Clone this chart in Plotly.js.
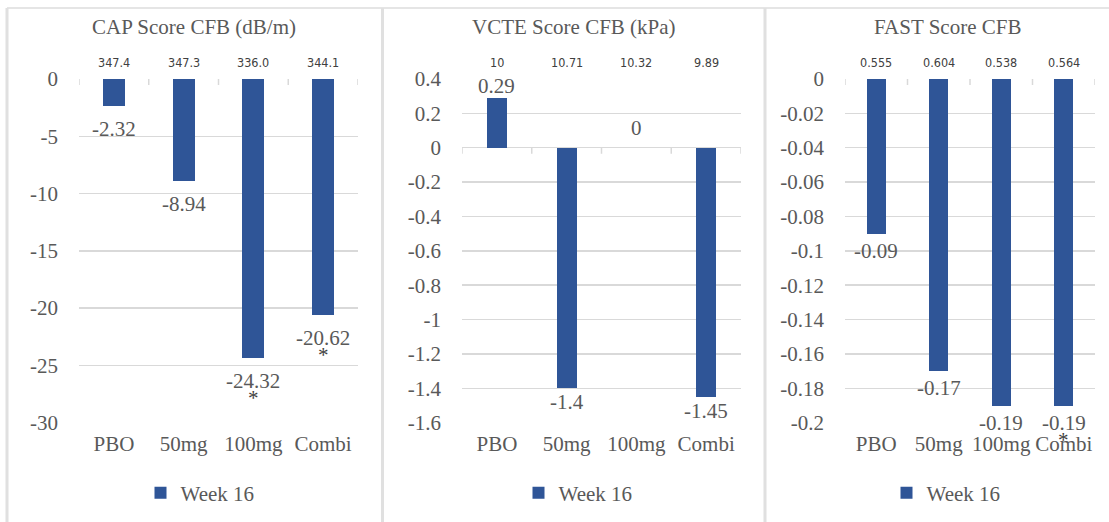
<!DOCTYPE html>
<html>
<head>
<meta charset="utf-8">
<script src="https://cdn.plot.ly/plotly-3.0.1.min.js"></script>
<style>html,body{margin:0;padding:0;background:#fff;}#chart{width:1109px;height:522px;}</style>
</head>
<body>
<div id="chart"></div>
<script>
// ---- data ----
const categories = ['PBO', '50mg', '100mg', 'Combi'];
const seriesName = 'Week 16';

const capTitle = 'CAP Score CFB (dB/m)';
const capChange = [-2.32, -8.94, -24.32, -20.62];
const capBaseline = ['347.4', '347.3', '336.0', '344.1'];
const capSig = ['', '', '*', '*'];
const capTicks = [0, -5, -10, -15, -20, -25, -30];

const vcteTitle = 'VCTE Score CFB (kPa)';
const vcteChange = [0.29, -1.4, 0, -1.45];
const vcteBaseline = ['10', '10.71', '10.32', '9.89'];
const vcteSig = ['', '', '', ''];
const vcteTicks = [0.4, 0.2, 0, -0.2, -0.4, -0.6, -0.8, -1, -1.2, -1.4, -1.6];

const fastTitle = 'FAST Score CFB';
const fastChange = [-0.09, -0.17, -0.19, -0.19];
const fastBaseline = ['0.555', '0.604', '0.538', '0.564'];
const fastSig = ['', '', '', '*'];
const fastTicks = [0, -0.02, -0.04, -0.06, -0.08, -0.1, -0.12, -0.14, -0.16, -0.18, -0.2];

// ---- styling / layout ----
const W = 1109, H = 522;
const BAR = '#2F5597', TXT = '#595959', GRID = '#D9D9D9';
const SERIF = 'Liberation Serif';
const NARROW = 'DejaVu Sans Condensed';
const px = v => v / W, py = v => 1 - v / H;

const panels = [
  {title: capTitle, vals: capChange, base: capBaseline, sig: capSig, ticks: capTicks,
   plot: [79, 358], titleX: 194, legendX: 200, barW: 0.315, off: 23},
  {title: vcteTitle, vals: vcteChange, base: vcteBaseline, sig: vcteSig, ticks: vcteTicks,
   plot: [462, 741], titleX: 574, legendX: 578, barW: 0.29, off: 14},
  {title: fastTitle, vals: fastChange, base: fastBaseline, sig: fastSig, ticks: fastTicks,
   plot: [845, 1095], titleX: 947, legendX: 946, barW: 0.305, off: 17}
];

const traces = [], annotations = [], shapes = [];
const layout = {
  width: W, height: H, margin: {l: 0, r: 0, t: 0, b: 0},
  paper_bgcolor: '#fff', plot_bgcolor: 'rgba(0,0,0,0)',
  font: {family: SERIF, color: TXT, size: 21},
  bargap: 0, showlegend: true
};

// panel frame
shapes.push({type: 'line', xref: 'paper', yref: 'paper', x0: px(7), x1: 1, y0: py(8), y1: py(8), line: {color: '#DCDCDC', width: 1.5}});
[7, 382.5, 765].forEach(x => shapes.push({type: 'line', xref: 'paper', yref: 'paper', x0: px(x), x1: px(x), y0: py(8), y1: 0, line: {color: '#E0E0E0', width: 3}}));

panels.forEach((p, i) => {
  const n = i === 0 ? '' : String(i + 1);
  const xa = 'x' + n, ya = 'y' + n;
  const legName = i === 0 ? 'legend' : 'legend' + (i + 1);
  const ymax = Math.max(...p.ticks), ymin = Math.min(...p.ticks);

  traces.push({
    type: 'bar', x: categories, y: p.vals, name: seriesName, xaxis: xa, yaxis: ya,
    width: p.barW, marker: {color: BAR}, legend: legName, hoverinfo: 'x+y'
  });

  layout['xaxis' + n] = {
    domain: [px(p.plot[0]), px(p.plot[1])], anchor: ya, type: 'category',
    range: [-0.5, categories.length - 0.5], showgrid: false, zeroline: false, showline: false,
    ticks: '', tickfont: {size: 21, color: TXT, family: SERIF}, ticklabelstandoff: 6, fixedrange: true
  };
  layout['yaxis' + n] = {
    domain: [py(422.7), py(79)], anchor: xa, range: [ymin, ymax],
    tickvals: p.ticks, ticktext: p.ticks.map(v => String(v)),
    showgrid: true, gridcolor: GRID, gridwidth: 1.5, zeroline: false, showline: false,
    ticks: '', tickfont: {size: 21, color: TXT, family: SERIF}, ticklabelstandoff: 20, fixedrange: true
  };
  layout[legName] = {
    x: px(p.legendX), xanchor: 'center', y: py(493), yanchor: 'middle',
    orientation: 'h', font: {size: 21, color: TXT, family: SERIF}, bgcolor: 'rgba(0,0,0,0)',
    itemwidth: 30
  };

  // title
  annotations.push({xref: 'paper', yref: 'paper', x: px(p.titleX), y: py(27), text: p.title,
    showarrow: false, xanchor: 'center', yanchor: 'middle', font: {size: 21, color: TXT, family: SERIF}});

  // axis-crossing tick marks at y = 0
  for (let k = 0; k <= categories.length; k++) {
    shapes.push({type: 'line', xref: xa, yref: ya, x0: k - 0.5, x1: k - 0.5,
      ysizemode: 'pixel', yanchor: 0, y0: 0, y1: -6, line: {color: GRID, width: 1.5}});
  }

  categories.forEach((c, j) => {
    // baseline labels above the plot
    annotations.push({xref: xa, yref: 'paper', x: c, y: py(62), text: p.base[j], showarrow: false,
      xanchor: 'center', yanchor: 'middle', font: {size: 12.5, color: '#404040', family: NARROW}});
    // value labels
    const v = p.vals[j];
    const up = v >= 0;
    annotations.push({xref: xa, yref: ya, x: c, y: v, text: String(v), showarrow: false,
      xanchor: 'center', yanchor: 'middle', yshift: up ? (v === 0 ? 20 : 12) : -p.off,
      font: {size: 21, color: TXT, family: SERIF}});
    if (p.sig[j]) {
      annotations.push({xref: xa, yref: ya, x: c, y: v, text: p.sig[j], showarrow: false,
        xanchor: 'center', yanchor: 'middle', yshift: -(p.off + 17),
        font: {size: 21, color: '#404040', family: SERIF}});
    }
  });
});

layout.annotations = annotations;
layout.shapes = shapes;

Plotly.newPlot('chart', traces, layout, {displayModeBar: false, staticPlot: true});
</script>
</body>
</html>
